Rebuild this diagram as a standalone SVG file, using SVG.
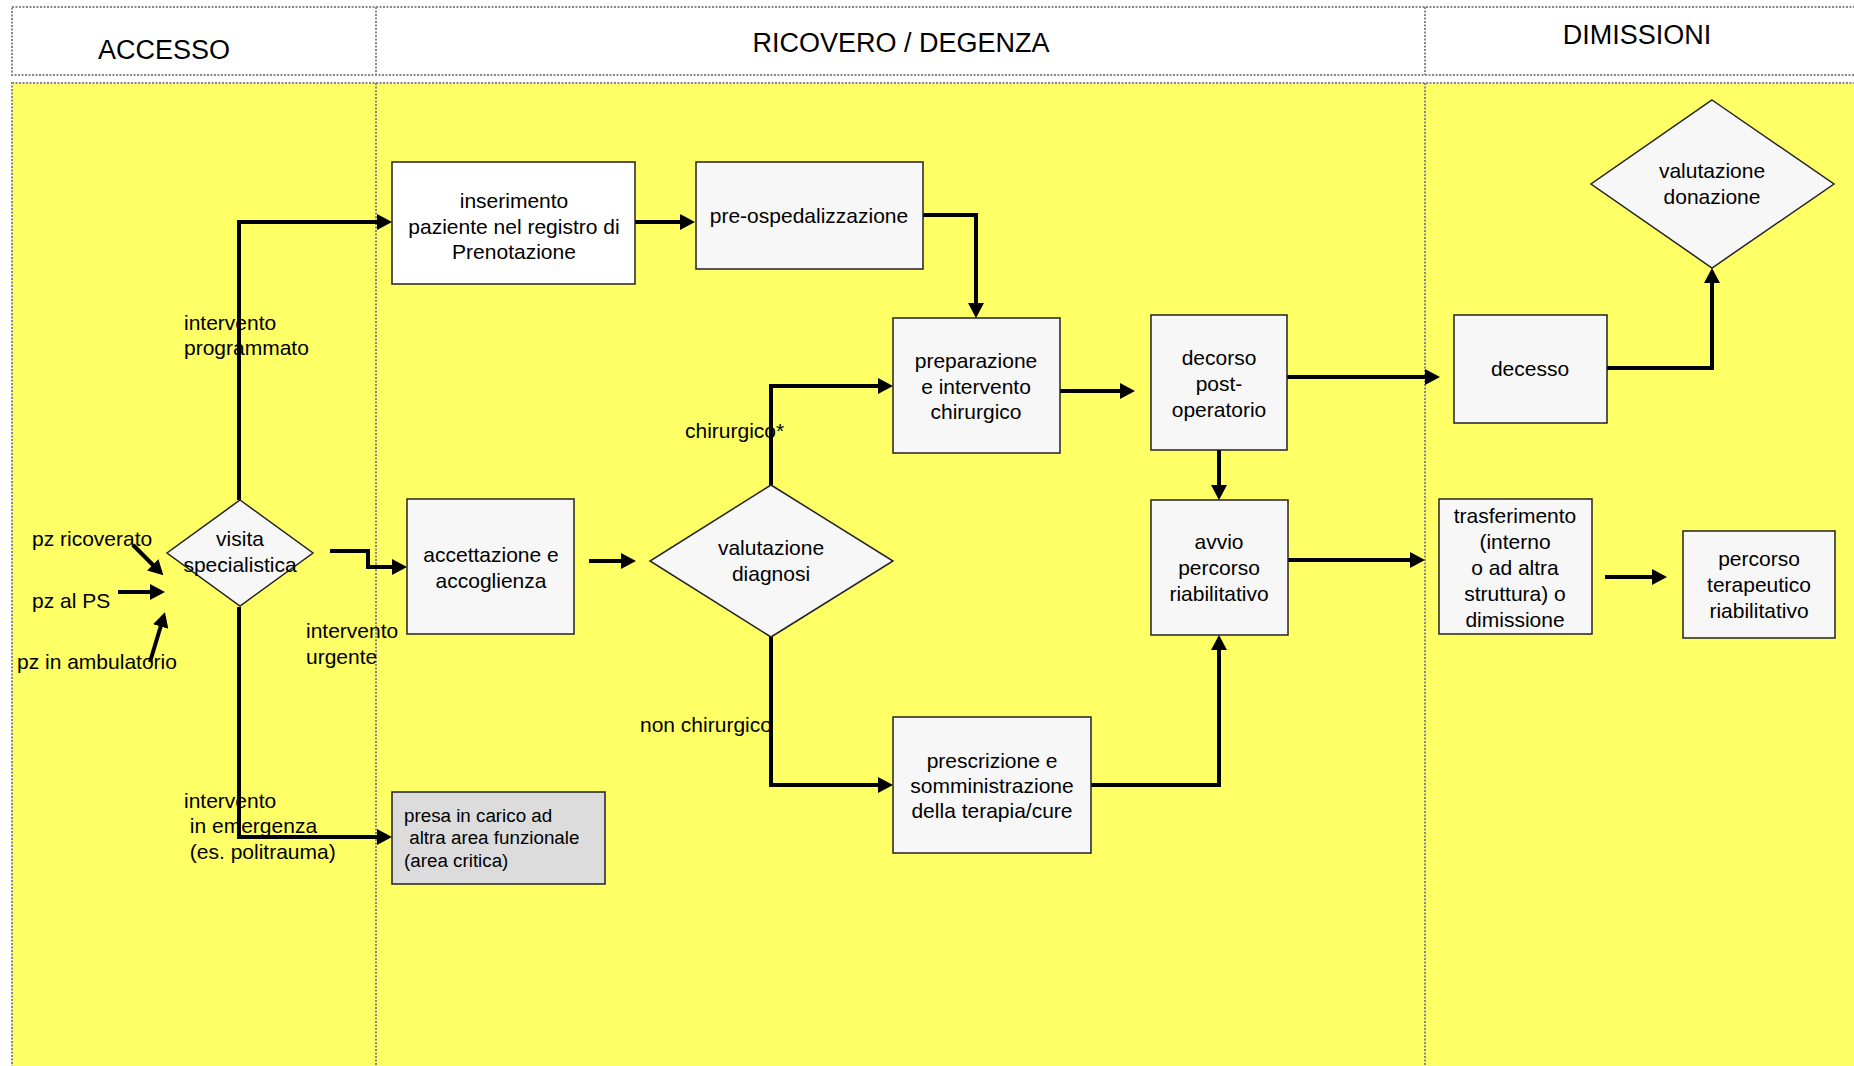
<svg xmlns="http://www.w3.org/2000/svg" width="1854" height="1066" viewBox="0 0 1854 1066">
  <style>
    text { font-family: "Liberation Sans", Arial, sans-serif; fill: #000; }
    .hdr { font-size: 27px; text-anchor: middle; }
    .t { font-size: 21px; text-anchor: middle; }
    .lbl { font-size: 21px; }
    .small { font-size: 18.8px; }
    .lane { stroke: #888; stroke-width: 2; stroke-dasharray: 2 1.5; }
    .box { fill: #f7f7f7; stroke: #222; stroke-width: 1.5; }
    .conn { fill: none; stroke: #000; stroke-width: 4; stroke-linejoin: miter; }
  </style>
  <defs>
    <marker id="arrow" markerUnits="userSpaceOnUse" markerWidth="16" markerHeight="16" refX="11" refY="8" orient="auto">
      <path d="M0,0 L15,8 L0,16 z" fill="#000"/>
    </marker>
  </defs>

  <rect width="1854" height="1066" fill="#ffffff"/>

  <!-- swimlane headers -->
  <g id="lanes">
    <rect x="12" y="7" width="1860" height="68" fill="#ffffff" class="lane"/>
    <rect x="12" y="83" width="1860" height="1000" fill="#ffff66" class="lane"/>
    <line x1="376" y1="7" x2="376" y2="75" class="lane"/>
    <line x1="1425" y1="7" x2="1425" y2="75" class="lane"/>
    <line x1="376" y1="83" x2="376" y2="1066" class="lane"/>
    <line x1="1425" y1="83" x2="1425" y2="1066" class="lane"/>
    <text class="hdr" x="164" y="59">ACCESSO</text>
    <text class="hdr" x="901" y="52">RICOVERO / DEGENZA</text>
    <text class="hdr" x="1637" y="44">DIMISSIONI</text>
  </g>

  <!-- connectors -->
  <g id="connectors">
    <polyline class="conn" points="239,500 239,222 388,222" marker-end="url(#arrow)"/>
    <polyline class="conn" points="635,222 691,222" marker-end="url(#arrow)"/>
    <polyline class="conn" points="923,215 976,215 976,314" marker-end="url(#arrow)"/>
    <polyline class="conn" points="330,551 368,551 368,567 403,567" marker-end="url(#arrow)"/>
    <polyline class="conn" points="589,561 632,561" marker-end="url(#arrow)"/>
    <polyline class="conn" points="771,485 771,386 889,386" marker-end="url(#arrow)"/>
    <polyline class="conn" points="771,636 771,785 889,785" marker-end="url(#arrow)"/>
    <polyline class="conn" points="1060,391 1131,391" marker-end="url(#arrow)"/>
    <polyline class="conn" points="1287,377 1436,377" marker-end="url(#arrow)"/>
    <polyline class="conn" points="1219,450 1219,496" marker-end="url(#arrow)"/>
    <polyline class="conn" points="1607,368 1712,368 1712,272" marker-end="url(#arrow)"/>
    <polyline class="conn" points="1288,560 1421,560" marker-end="url(#arrow)"/>
    <polyline class="conn" points="1605,577 1663,577" marker-end="url(#arrow)"/>
    <polyline class="conn" points="1091,785 1219,785 1219,639" marker-end="url(#arrow)"/>
    <polyline class="conn" points="239,607 239,837 388,837" marker-end="url(#arrow)"/>
    <line class="conn" x1="133" y1="545" x2="160.5" y2="572.5" marker-end="url(#arrow)"/>
    <line class="conn" x1="118" y1="592" x2="161" y2="592" marker-end="url(#arrow)"/>
    <line class="conn" x1="150" y1="662" x2="163.8" y2="616" marker-end="url(#arrow)"/>
  </g>

  <!-- edge labels -->
  <g id="labels">
    <text class="lbl" x="32" y="546">pz ricoverato</text>
    <text class="lbl" x="32" y="608">pz al PS</text>
    <text class="lbl" x="17" y="669">pz in ambulatorio</text>
    <text class="lbl" x="184" y="330">intervento</text>
    <text class="lbl" x="184" y="355">programmato</text>
    <text class="lbl" x="306" y="638">intervento</text>
    <text class="lbl" x="306" y="664">urgente</text>
    <text class="lbl" x="184" y="808">intervento</text>
    <text class="lbl" x="184" y="833" xml:space="preserve"> in emergenza</text>
    <text class="lbl" x="184" y="859" xml:space="preserve"> (es. politrauma)</text>
    <text class="lbl" x="685" y="438">chirurgico*</text>
    <text class="lbl" x="640" y="732">non chirurgico</text>
  </g>

  <!-- nodes -->
  <g id="visita-specialistica">
    <polygon class="box" points="240,500 313,553 240,606 167,553"/>
    <text class="t" x="240" y="546">visita</text>
    <text class="t" x="240" y="572">specialistica</text>
  </g>

  <g id="inserimento-registro">
    <rect class="box" x="392" y="162" width="243" height="122" style="fill:#ffffff"/>
    <text class="t" x="514" y="208">inserimento</text>
    <text class="t" x="514" y="234">paziente nel registro di</text>
    <text class="t" x="514" y="259">Prenotazione</text>
  </g>

  <g id="pre-ospedalizzazione">
    <rect class="box" x="696" y="162" width="227" height="107"/>
    <text class="t" x="809" y="223">pre-ospedalizzazione</text>
  </g>

  <g id="accettazione">
    <rect class="box" x="407" y="499" width="167" height="135"/>
    <text class="t" x="491" y="562">accettazione e</text>
    <text class="t" x="491" y="588">accoglienza</text>
  </g>

  <g id="presa-in-carico">
    <rect class="box" x="392" y="792" width="213" height="92" style="fill:#dcdcdc"/>
    <text class="small" x="404" y="822">presa in carico ad</text>
    <text class="small" x="404" y="844" xml:space="preserve"> altra area funzionale</text>
    <text class="small" x="404" y="867">(area critica)</text>
  </g>

  <g id="valutazione-diagnosi">
    <polygon class="box" points="771,485 893,561 771,637 650,561"/>
    <text class="t" x="771" y="555">valutazione</text>
    <text class="t" x="771" y="581">diagnosi</text>
  </g>

  <g id="preparazione-intervento">
    <rect class="box" x="893" y="318" width="167" height="135"/>
    <text class="t" x="976" y="368">preparazione</text>
    <text class="t" x="976" y="394">e intervento</text>
    <text class="t" x="976" y="419">chirurgico</text>
  </g>

  <g id="prescrizione-terapia">
    <rect class="box" x="893" y="717" width="198" height="136"/>
    <text class="t" x="992" y="768">prescrizione e</text>
    <text class="t" x="992" y="793">somministrazione</text>
    <text class="t" x="992" y="818">della terapia/cure</text>
  </g>

  <g id="decorso-post-operatorio">
    <rect class="box" x="1151" y="315" width="136" height="135"/>
    <text class="t" x="1219" y="365">decorso</text>
    <text class="t" x="1219" y="391">post-</text>
    <text class="t" x="1219" y="417">operatorio</text>
  </g>

  <g id="avvio-riabilitazione">
    <rect class="box" x="1151" y="500" width="137" height="135"/>
    <text class="t" x="1219" y="549">avvio</text>
    <text class="t" x="1219" y="575">percorso</text>
    <text class="t" x="1219" y="601">riabilitativo</text>
  </g>

  <g id="decesso">
    <rect class="box" x="1454" y="315" width="153" height="108"/>
    <text class="t" x="1530" y="376">decesso</text>
  </g>

  <g id="valutazione-donazione">
    <polygon class="box" points="1712,100 1834,184 1712,268 1591,184"/>
    <text class="t" x="1712" y="178">valutazione</text>
    <text class="t" x="1712" y="204">donazione</text>
  </g>

  <g id="trasferimento-dimissione">
    <rect class="box" x="1439" y="499" width="153" height="135"/>
    <text class="t" x="1515" y="523">trasferimento</text>
    <text class="t" x="1515" y="549">(interno</text>
    <text class="t" x="1515" y="575">o ad altra</text>
    <text class="t" x="1515" y="601">struttura) o</text>
    <text class="t" x="1515" y="627">dimissione</text>
  </g>

  <g id="percorso-terapeutico">
    <rect class="box" x="1683" y="531" width="152" height="107"/>
    <text class="t" x="1759" y="566">percorso</text>
    <text class="t" x="1759" y="592">terapeutico</text>
    <text class="t" x="1759" y="618">riabilitativo</text>
  </g>
</svg>
